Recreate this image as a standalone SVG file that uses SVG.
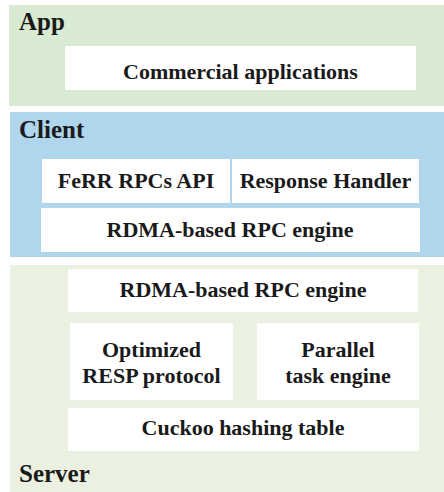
<svg xmlns="http://www.w3.org/2000/svg" width="444" height="492" viewBox="0 0 444 492">
<style>
.box{fill:#ffffff}
text{font-family:'Liberation Serif','Times New Roman',serif;font-weight:bold;fill:#1a1a1a}
.t{font-size:22px;text-anchor:middle}
.h{font-size:25px}
</style>
<rect width="444" height="492" fill="#ffffff"/>
<g id="app">
<rect x="9" y="5" width="435" height="101" fill="#d9ead3"/>
<text class="h" x="19" y="30">App</text>
</g>
<g id="commercial">
<rect class="box" x="65" y="46" width="351" height="44"/>
<text class="t" x="240.5" y="79">Commercial applications</text>
</g>
<g id="client">
<rect x="10" y="112" width="434" height="145" fill="#afd6ec"/>
<text class="h" x="19" y="138">Client</text>
</g>
<g id="ferr">
<rect class="box" x="42" y="159" width="188" height="44"/>
<text class="t" x="136" y="188">FeRR RPCs API</text>
</g>
<g id="response">
<rect class="box" x="232" y="159" width="187" height="44"/>
<text class="t" x="325.5" y="188">Response Handler</text>
</g>
<g id="client-rdma">
<rect class="box" x="41" y="208" width="379" height="44"/>
<text class="t" x="230" y="237">RDMA-based RPC engine</text>
</g>
<g id="server">
<rect x="10" y="265" width="434" height="227" fill="#ebf1e1"/>
<text class="h" x="19" y="482">Server</text>
</g>
<g id="server-rdma">
<rect class="box" x="68" y="269" width="350" height="43"/>
<text class="t" x="243" y="297">RDMA-based RPC engine</text>
</g>
<g id="resp">
<rect class="box" x="70" y="323" width="163" height="77"/>
<text class="t" x="151.5" y="357">Optimized</text>
<text class="t" x="151.5" y="383">RESP protocol</text>
</g>
<g id="parallel">
<rect class="box" x="257" y="323" width="162" height="77"/>
<text class="t" x="338" y="357">Parallel</text>
<text class="t" x="338" y="383">task engine</text>
</g>
<g id="cuckoo">
<rect class="box" x="68" y="408" width="351" height="43"/>
<text class="t" x="243" y="435">Cuckoo hashing table</text>
</g>
<g id="connectors"></g>
</svg>
